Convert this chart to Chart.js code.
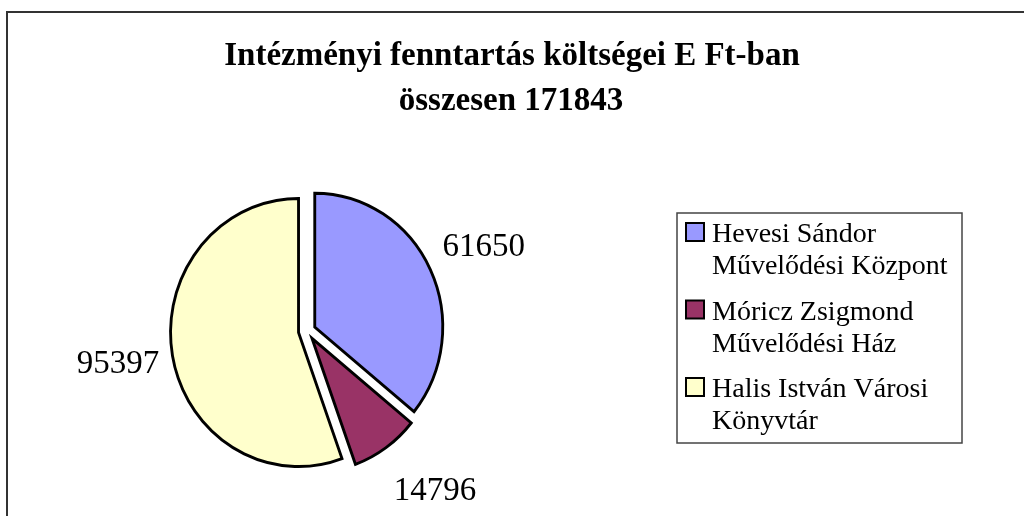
<!DOCTYPE html>
<html>
<head>
<meta charset="utf-8">
<script src="https://cdn.jsdelivr.net/npm/chart.js@4"></script>
<style>
  html, body { margin: 0; padding: 0; background: #fff; }
  canvas { display: block; }
</style>
</head>
<body>
<canvas id="pie" width="1024" height="516"></canvas>
<script>
// data
var titleLines = ['Intézményi fenntartás költségei E Ft-ban', 'összesen 171843'];
var categories = [
    ['Hevesi Sándor', 'Művelődési Központ'],
    ['Móricz Zsigmond', 'Művelődési Ház'],
    ['Halis István Városi', 'Könyvtár']
];
var values = [61650, 14796, 95397];
var colors = ['#9999FF', '#993366', '#FFFFCC'];

var serif = '"Liberation Serif", "Times New Roman", serif';
var squash = 0.955; // the original pie is a bit narrower than tall
var gap = 9;        // how far each slice is pulled out

// draw every arc pulled out along its middle angle, pie squashed a little
var explodedPie = {
    id: 'explodedPie',
    beforeDatasetDraw: (chart, args) => {
        var ctx = chart.ctx;
        var a = chart.chartArea;
        var cx = (a.left + a.right) / 2;
        args.meta.data.forEach((arc) => {
            var p = arc.getProps(['startAngle', 'endAngle']);
            var mid = (p.startAngle + p.endAngle) / 2;
            ctx.save();
            ctx.translate(cx, 0);
            ctx.scale(squash, 1);
            ctx.translate(-cx, 0);
            ctx.translate(Math.cos(mid) * gap, Math.sin(mid) * gap);
            arc.draw(ctx, a);
            ctx.restore();
        });
        return false;
    }
};

// frame, title, value labels and legend drawn on the canvas
var decorations = {
    id: 'decorations',
    beforeDraw: (chart) => {
        var ctx = chart.ctx;
        ctx.save();
        ctx.fillStyle = '#fff';
        ctx.fillRect(0, 0, chart.width, chart.height);
        ctx.strokeStyle = '#333';
        ctx.lineWidth = 2;
        ctx.beginPath();
        ctx.moveTo(7, chart.height);
        ctx.lineTo(7, 12);
        ctx.lineTo(chart.width, 12);
        ctx.stroke();
        ctx.restore();
    },
    afterDraw: (chart) => {
        var ctx = chart.ctx;
        ctx.save();

        // title
        ctx.fillStyle = '#000';
        ctx.font = 'bold 33px ' + serif;
        ctx.textAlign = 'center';
        ctx.textBaseline = 'alphabetic';
        ctx.fillText(titleLines[0], 512, 65);
        ctx.fillText(titleLines[1], 511, 110);

        // value labels outside each slice, near edge towards the pie
        var meta = chart.getDatasetMeta(0);
        ctx.font = '33px ' + serif;
        ctx.textBaseline = 'middle';
        meta.data.forEach((arc, i) => {
            var p = arc.getProps(['x', 'y', 'startAngle', 'endAngle', 'outerRadius']);
            var mid = (p.startAngle + p.endAngle) / 2;
            var cos = Math.cos(mid), sin = Math.sin(mid);
            ctx.textAlign = cos >= 0 ? 'left' : 'right';
            var lx = p.x + cos * (p.outerRadius + 23) * squash;
            var ly = p.y + sin * (p.outerRadius + 62);
            ctx.fillText(String(values[i]), lx, ly);
        });

        // legend box
        var bx = 677, by = 213, bw = 285, bh = 230;
        ctx.strokeStyle = '#444';
        ctx.lineWidth = 1.5;
        ctx.strokeRect(bx, by, bw, bh);

        ctx.font = '28px ' + serif;
        ctx.textAlign = 'left';
        ctx.textBaseline = 'alphabetic';
        categories.forEach((lines, i) => {
            var base = by + 29 + i * 77.5;
            ctx.fillStyle = colors[i];
            ctx.fillRect(686, base - 19, 18, 18);
            ctx.strokeStyle = '#000';
            ctx.lineWidth = 2;
            ctx.strokeRect(686, base - 19, 18, 18);
            ctx.fillStyle = '#000';
            lines.forEach((t, j) => {
                ctx.fillText(t, 712, base + j * 32);
            });
        });
        ctx.restore();
    }
};

var config = {
    type: 'pie',
    data: {
        labels: categories,
        datasets: [{
            data: values,
            backgroundColor: colors,
            borderColor: '#000',
            borderWidth: 3,
            borderJoinStyle: 'miter'
        }]
    },
    options: {
        responsive: false,
        animation: false,
        radius: 134,
        layout: { padding: { left: 167, right: 577, top: 191, bottom: 45 } },
        plugins: {
            legend: { display: false },
            title: { display: false },
            tooltip: { enabled: false }
        }
    },
    plugins: [explodedPie, decorations]
};

var ctx = document.getElementById('pie').getContext('2d');
new Chart(ctx, config);
</script>
</body>
</html>
